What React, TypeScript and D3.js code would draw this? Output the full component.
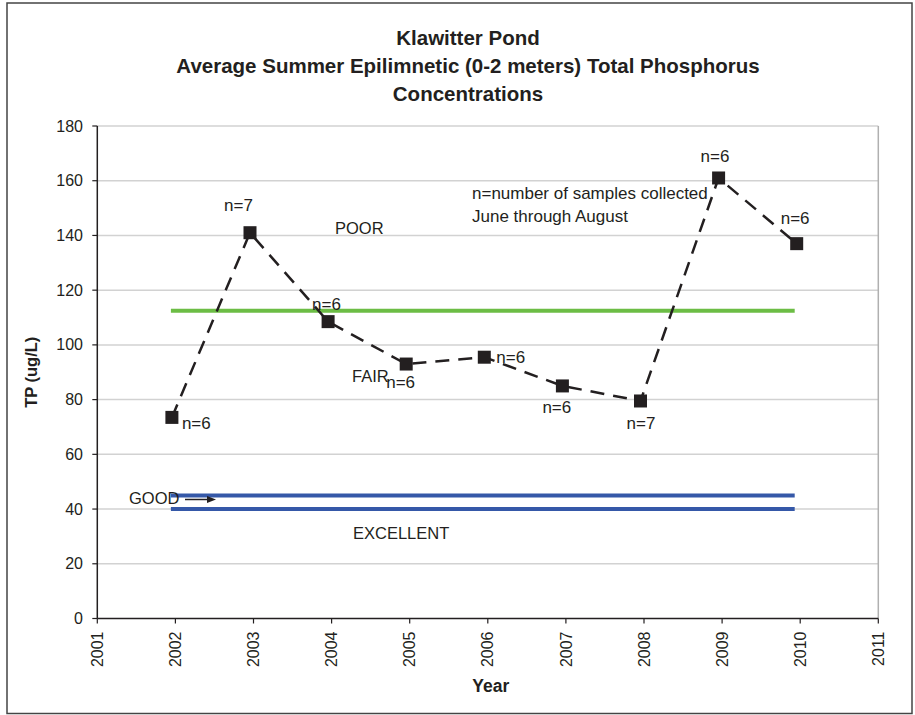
import React from "react";
import * as d3 from "d3";

const years = [2002, 2003, 2004, 2005, 2006, 2007, 2008, 2009, 2010];
const tp = [73.5, 141, 108.5, 93, 95.5, 85, 79.5, 161, 137];
const nLabels = ["n=6", "n=7", "n=6", "n=6", "n=6", "n=6", "n=7", "n=6", "n=6"];
// label offsets relative to each point (dx, dy) in px
const nOffsets: [number, number][] = [
  [10, 12], [-26, -22], [-16, -12], [-20, 24], [12, 6], [-20, 27], [-14, 28], [-18, -16], [-16, -20],
];
const yTicks = [0, 20, 40, 60, 80, 100, 120, 140, 160, 180];
const xTicks = [2001, 2002, 2003, 2004, 2005, 2006, 2007, 2008, 2009, 2010, 2011];
const poorFair = 112.5;
const goodLine = 45;
const excellentLine = 40;
const titleLines = [
  "Klawitter Pond",
  "Average Summer Epilimnetic (0-2 meters) Total Phosphorus",
  "Concentrations",
];

export default function App() {
  const W = 915, H = 715;
  const left = 97.3, right = 878.3, top = 126, bottom = 618.5;
  const x = d3.scaleLinear().domain([2001, 2011]).range([left, right]);
  const y = d3.scaleLinear().domain([0, 180]).range([bottom, top]);
  const line = d3.line<number>().x((_, i) => x(years[i]) - 3.5).y((d) => y(d));
  const txt = "#231f20";
  const font = "Liberation Sans, Arial, sans-serif";
  const xs = x(years[0]) - 4.5, xe = x(years[years.length - 1]) - 5.5;

  return (
    <svg width={W} height={H} style={{ position: "absolute", left: 0, top: 0 }} fontFamily={font}>
      <rect x={0} y={0} width={W} height={H} fill="#fff" />
      <rect x={7} y={3} width={905} height={710.5} fill="none" stroke="#444" strokeWidth={1.5} />
      {titleLines.map((t, i) => (
        <text key={i} x={468} y={45 + i * 28} textAnchor="middle" fontWeight="bold" fontSize={20.5} fill={txt}>
          {t}
        </text>
      ))}
      {yTicks.map((t) => (
        <g key={t}>
          {t > 0 && <line x1={left} x2={right} y1={y(t)} y2={y(t)} stroke="#d2d2d2" strokeWidth={1.5} />}
          <line x1={left - 5} x2={left} y1={y(t)} y2={y(t)} stroke={txt} strokeWidth={1.2} />
          <text x={83} y={y(t)} dy="0.35em" textAnchor="end" fontSize={16} fill={txt}>{t}</text>
        </g>
      ))}
      <line x1={right} x2={right} y1={top} y2={bottom} stroke="#b0b0b0" strokeWidth={1.5} />
      {xTicks.map((t) => (
        <g key={t}>
          <line x1={x(t)} x2={x(t)} y1={bottom} y2={bottom + 5} stroke={txt} strokeWidth={1.2} />
          <text transform={`translate(${x(t)},${bottom + 13}) rotate(-90)`} dy="0.35em" textAnchor="end" fontSize={16} fill={txt}>{t}</text>
        </g>
      ))}
      <line x1={left} x2={left} y1={top} y2={bottom} stroke={txt} strokeWidth={1.5} />
      <line x1={left} x2={right} y1={bottom} y2={bottom} stroke={txt} strokeWidth={1.5} />
      {/* threshold lines */}
      <line x1={xs} x2={xe} y1={y(poorFair)} y2={y(poorFair)} stroke="#6cbd45" strokeWidth={4} />
      <line x1={xs} x2={xe} y1={y(goodLine)} y2={y(goodLine)} stroke="#3558a8" strokeWidth={4} />
      <line x1={xs} x2={xe} y1={y(excellentLine)} y2={y(excellentLine)} stroke="#3558a8" strokeWidth={4} />
      {/* data */}
      <path d={line(tp) || ""} fill="none" stroke={txt} strokeWidth={2.5} strokeDasharray="14,9" />
      {tp.map((v, i) => (
        <rect key={i} x={x(years[i]) - 3.5 - 6.5} y={y(v) - 6.5} width={13} height={13} fill={txt} />
      ))}
      {tp.map((v, i) => (
        <text key={"n" + i} x={x(years[i]) - 3.5 + nOffsets[i][0]} y={y(v) + nOffsets[i][1]} fontSize={17} fill={txt}>
          {nLabels[i]}
        </text>
      ))}
      {/* annotations */}
      <text x={335} y={234} fontSize={16.5} fill={txt}>POOR</text>
      <text x={352} y={382} fontSize={16.5} fill={txt}>FAIR</text>
      <text x={129} y={504} fontSize={16.5} fill={txt}>GOOD</text>
      <text x={353} y={539} fontSize={16.5} fill={txt}>EXCELLENT</text>
      <line x1={185} x2={208} y1={499.5} y2={499.5} stroke={txt} strokeWidth={1.5} />
      <path d="M216,499.5 L207,496 L207,503 Z" fill={txt} />
      <text x={472} y={199} fontSize={17} fill={txt}>n=number of samples collected</text>
      <text x={472} y={222} fontSize={17} fill={txt}>June through August</text>
      {/* axis titles */}
      <text x={(left + right) / 2 + 3} y={692} textAnchor="middle" fontWeight="bold" fontSize={17.5} fill={txt}>Year</text>
      <text transform={`translate(37,${(top + bottom) / 2}) rotate(-90)`} textAnchor="middle" fontWeight="bold" fontSize={16.5} fill={txt}>TP (ug/L)</text>
    </svg>
  );
}
